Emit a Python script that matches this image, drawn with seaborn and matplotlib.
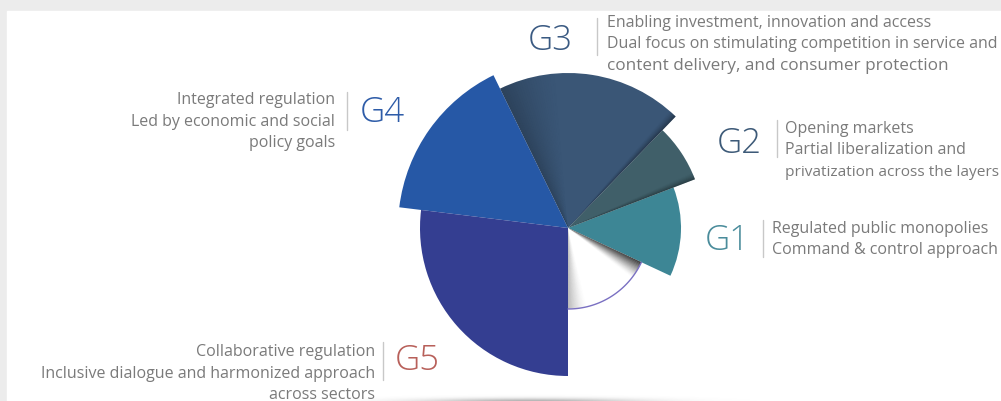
import numpy as np
import matplotlib
matplotlib.use("Agg")
import matplotlib.pyplot as plt
import seaborn as sns

# wedge data (angles in degrees, counter-clockwise from east; radius in px)
groups = ["G1", "G2", "G3", "G4", "G5"]
start_deg = [-25, 21, 46, 116, 173]
end_deg = [21, 46, 116, 173, 270]
radius = [113, 136, 155, 170, 148]
wedge_colors = ["#3d8695", "#405f69", "#3a5676", "#2658a6", "#343e91"]
label_colors = ["#4a8c9b", "#3d5a78", "#3a5a82", "#2e5ca8", "#b8605a"]

# the open (white) wedge
open_start, open_end, open_radius = -90, -25, 81

descriptions = {
    "G1": ["Regulated public monopolies", "Command & control approach"],
    "G2": ["Opening markets", "Partial liberalization and",
           "privatization across the layers"],
    "G3": ["Enabling investment, innovation and access",
           "Dual focus on stimulating competition in service and",
           "content delivery, and consumer protection"],
    "G4": ["Integrated regulation", "Led by economic and social", "policy goals"],
    "G5": ["Collaborative regulation",
           "Inclusive dialogue and harmonized approach", "across sectors"],
}

sns.set_theme(style="white")
plt.rcParams["font.family"] = ["Open Sans", "DejaVu Sans"]

W, H = 1001, 401
fig = plt.figure(figsize=(W / 100, H / 100), dpi=100)
fig.patch.set_facecolor("#ececec")

# background / text layer in pixel coordinates
bg = fig.add_axes([0, 0, 1, 1])
bg.set_xlim(0, W)
bg.set_ylim(H, 0)
bg.axis("off")
bg.add_patch(plt.Rectangle((7, 11), W - 7, H - 11, color="white", zorder=0))

# soft floor shadow under the chart
xs = np.linspace(300, 760, 300)
ys = np.linspace(388, 401, 30)
X, Y = np.meshgrid(xs, ys)
a = 0.5 * np.exp(-((X - 530) / 105) ** 2 - ((Y - 402) / 3.5) ** 2)
img = np.zeros(X.shape + (4,))
img[..., :3] = 0.35
img[..., 3] = a
bg.imshow(img, extent=(300, 760, 401, 388), origin="upper", aspect="auto", zorder=1)

# polar layer: centre at (568, 228) px, 1 radius unit = 1 px
cx, cy, rmax = 568, 228, 170
ax = fig.add_axes([(cx - rmax) / W, (H - cy - rmax) / H, 2 * rmax / W, 2 * rmax / H],
                  projection="polar")
ax.set_ylim(0, rmax)
ax.set_axis_off()
ax.patch.set_alpha(0)

th0 = np.deg2rad(start_deg)
widths = np.deg2rad(np.array(end_deg) - np.array(start_deg))
ax.bar(th0, radius, width=widths, align="edge", color=wedge_colors,
       linewidth=0, clip_on=False)

ax.bar(np.deg2rad(open_start), open_radius,
       width=np.deg2rad(open_end - open_start), align="edge",
       color="white", linewidth=0, clip_on=False)


def shade(edge, r, span, max_alpha, direction, n=24, power=1.6):
    step = span / n
    for i in range(n):
        a = max_alpha * (1 - i / n) ** power
        t = edge + direction * i * step
        t0 = t if direction > 0 else t - step
        ax.bar(np.deg2rad(t0), r, width=np.deg2rad(step), align="edge",
               color="black", alpha=a, linewidth=0, clip_on=False)


# shadows inside the open wedge
shade(open_end, open_radius, 13, 0.9, -1)
shade(open_start, open_radius, 14, 0.28, +1)
# subtle shading along wedge borders
shade(start_deg[1], radius[1], 3, 0.35, +1, n=8)
shade(start_deg[2], radius[2], 3, 0.35, +1, n=8)
shade(end_deg[2], radius[2], 22, 0.22, -1)

arc = np.deg2rad(np.linspace(open_start, open_end, 60))
ax.plot(arc, np.full_like(arc, open_radius), color="#7a70c2", lw=1, clip_on=False)

# labels: big tag, divider, description lines
layout = {
    # tag_x, tag_baseline, div_x, div_y0, div_y1, text_x, first_baseline, ha
    "G1": (705, 250, 763, 220, 257, 772, 233, "left"),
    "G2": (717, 153, 777, 120, 157, 785, 133, "left"),
    "G3": (528, 50, 597, 18, 55, 607, 27, "left"),
    "G4": (360, 122, 347, 92, 130, 335, 104, "right"),
    "G5": (395, 370, 383, 342, 380, 375, 356, "right"),
}
for g, c in zip(groups, label_colors):
    tx, tb, dx, dy0, dy1, x, b0, ha = layout[g]
    bg.text(tx, tb, g, color=c, fontsize=25, fontweight="light",
            ha="left", va="baseline")
    bg.plot([dx, dx], [dy0, dy1], color="#c8c8c8", lw=1)
    for i, line in enumerate(descriptions[g]):
        size = 11.5
        if g == "G3" and i == 2:
            size = 12.3
        elif g == "G2" and i == 2:
            size = 11.1
        bg.text(x, b0 + 21.5 * i, line, color="#7a7a7a", fontsize=size,
                ha=ha, va="baseline")

fig.savefig("out.png", dpi=100)
